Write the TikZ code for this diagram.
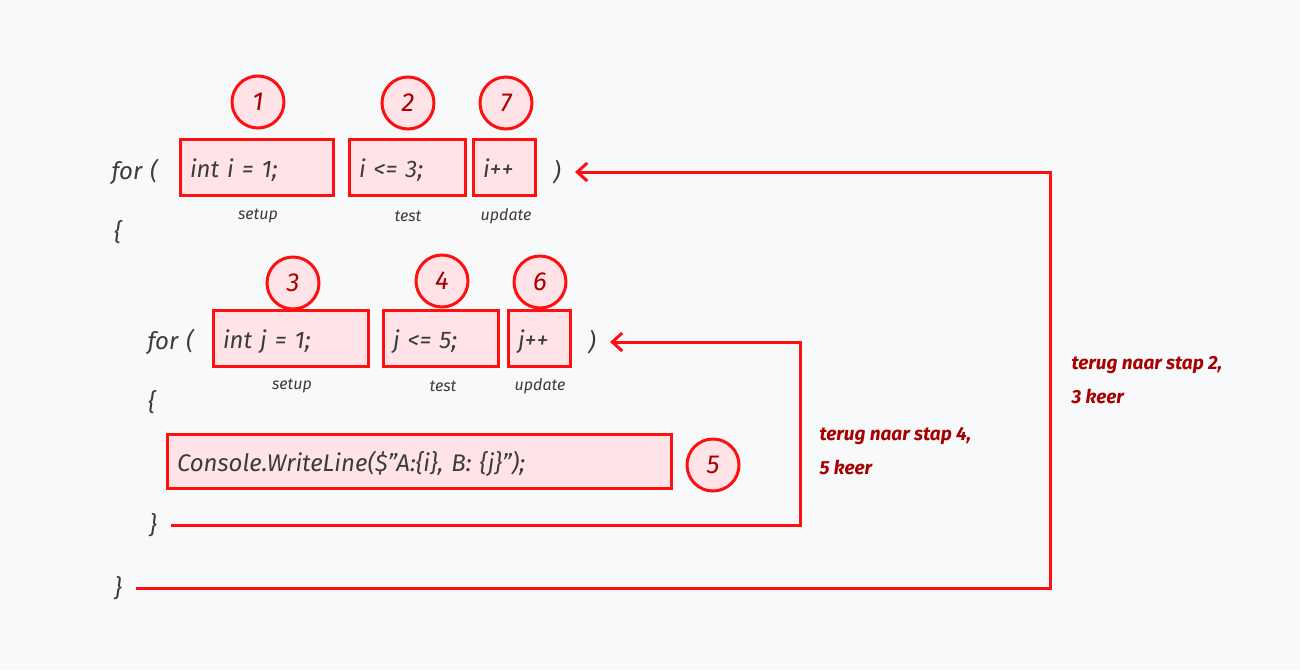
\documentclass[tikz,border=0pt]{standalone}
\usepackage{fontspec}
\setmainfont{Fira Sans}
\usetikzlibrary{arrows.meta}
\definecolor{bg}{HTML}{F8F9FB}
\definecolor{rd}{HTML}{FF1010}
\definecolor{pink}{HTML}{FFE3E6}
\definecolor{ink}{HTML}{3C3C3C}
\definecolor{dred}{HTML}{A80000}
\begin{document}
\begin{tikzpicture}[x=1pt,y=-1pt,
  code/.style={font=\itshape\fontsize{24}{28}\selectfont,text=ink},
  box/.style={code,draw=rd,line width=3pt,fill=pink,minimum height=56pt,
    inner xsep=10pt,text width=#1,align=left,text height=26pt,text depth=6pt},
  num/.style={circle,draw=rd,line width=3pt,fill=pink,minimum size=52pt,
    inner sep=0pt,text=dred,font=\itshape\fontsize{26}{28}\selectfont},
  lbl/.style={text=ink,font=\itshape\fontsize{16}{18}\selectfont},
  note/.style={anchor=west,align=left,text=dred,
    font=\bfseries\itshape\fontsize{19}{34}\selectfont},
  brace/.style={code,inner sep=8pt},
  back/.style={draw=rd,line width=3pt,-{Straight Barb[length=10pt,width=18pt]},
    shorten <=6pt,shorten >=6pt}]
\useasboundingbox[fill=bg] (0,0) rectangle (1300,670);

% outer loop
\node[code,anchor=west] (ofor) at (108,172) {for\,\,(};
\node[box=133pt] (osetup) at (256.5,167) {int i = 1;};
\node[box=96pt] (otest) at (407,167) {i <= 3;};
\node[box=42pt] (oupd) at (504,167.5) {i++};
\node[brace] (op) at (557,172) {)};
\node[lbl] at (258,216) {setup};
\node[lbl] at (408,216) {test};
\node[lbl] at (506,216) {update};
\node[num] (n1) at (258,102) {1};
\node[num] (n2) at (408,103) {2};
\node[num] (n7) at (506,103) {7};
\node[brace] (oopen) at (118,232) {\{};

% inner loop
\node[code,anchor=west] (ifor) at (144,342) {for\,\,(};
\node[box=135pt] (isetup) at (290.5,338) {int j = 1;};
\node[box=95pt] (itest) at (440.5,338) {j <= 5;};
\node[box=42pt] (iupd) at (539,338) {j++};
\node[brace] (ip) at (592,342) {)};
\node[lbl] at (292,386) {setup};
\node[lbl] at (443,386) {test};
\node[lbl] at (540,386) {update};
\node[num] (n3) at (293,283) {3};
\node[num] (n4) at (442,281) {4};
\node[num] (n6) at (540,282) {6};
\node[brace] (iopen) at (152,402) {\{};

% body
\node[box=484pt,minimum height=54pt] (body) at (419,461) {Console.WriteLine(\$"A:\{i\}, B: \{j\}");};
\node[num] (n5) at (713,465) {5};
\node[brace] (ib) at (153,525) {\}};
\node[brace] (ob) at (118,588) {\}};

% terugsprongen
\coordinate (c1) at (800,523);
\coordinate (c2) at (1050,587);
\draw[back] (ib) -- (ib -| c1) |- (ip);
\draw[back] (ob) -- (ob -| c2) |- (op);
\node[note] (t1) at (816,451) {terug naar stap 4,\\5 keer};
\node[note] (t2) at (1068,380) {terug naar stap 2,\\3 keer};
\end{tikzpicture}
\end{document}
